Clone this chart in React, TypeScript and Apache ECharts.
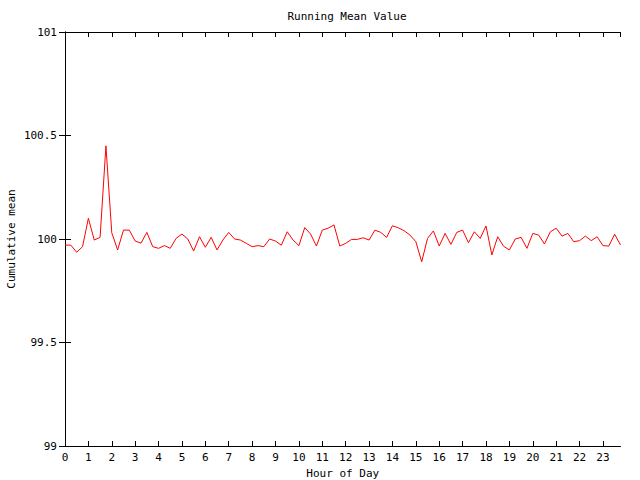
import React, { useEffect, useRef } from "react";
import * as echarts from "echarts";

const titleText = "Running Mean Value";
const xAxisName = "Hour of Day";
const yAxisName = "Cumulative mean";

// sample hours: every quarter hour, 0 .. 23.75
const hours: number[] = [
  0, 0.25, 0.5, 0.75, 1, 1.25, 1.5, 1.75, 2, 2.25, 2.5, 2.75,
  3, 3.25, 3.5, 3.75, 4, 4.25, 4.5, 4.75, 5, 5.25, 5.5, 5.75,
  6, 6.25, 6.5, 6.75, 7, 7.25, 7.5, 7.75, 8, 8.25, 8.5, 8.75,
  9, 9.25, 9.5, 9.75, 10, 10.25, 10.5, 10.75, 11, 11.25, 11.5, 11.75,
  12, 12.25, 12.5, 12.75, 13, 13.25, 13.5, 13.75, 14, 14.25, 14.5, 14.75,
  15, 15.25, 15.5, 15.75, 16, 16.25, 16.5, 16.75, 17, 17.25, 17.5, 17.75,
  18, 18.25, 18.5, 18.75, 19, 19.25, 19.5, 19.75, 20, 20.25, 20.5, 20.75,
  21, 21.25, 21.5, 21.75, 22, 22.25, 22.5, 22.75, 23, 23.25, 23.5, 23.75,
];

const runningMean: number[] = [
  99.971, 99.97, 99.936, 99.963, 100.1, 99.995, 100.008, 100.45, 100.03, 99.947, 100.043, 100.043,
  99.99, 99.98, 100.032, 99.963, 99.955, 99.968, 99.955, 100.003, 100.024, 100.0, 99.942, 100.011,
  99.96, 100.008, 99.947, 99.995, 100.032, 100.0, 99.995, 99.979, 99.963, 99.968, 99.963, 100.0,
  99.99, 99.97, 100.035, 99.995, 99.968, 100.055, 100.024, 99.966, 100.043, 100.052, 100.068, 99.966,
  99.979, 99.998, 99.998, 100.006, 99.995, 100.043, 100.032, 100.008, 100.064, 100.054, 100.04, 100.019,
  99.987, 99.89, 100.003, 100.039, 99.966, 100.027, 99.974, 100.032, 100.043, 99.982, 100.035, 100.003,
  100.063, 99.923, 100.011, 99.965, 99.947, 100.0, 100.008, 99.955, 100.027, 100.019, 99.976, 100.035,
  100.052, 100.014, 100.027, 99.987, 99.992, 100.014, 99.992, 100.011, 99.968, 99.966, 100.023, 99.971,
];

const yTicks: number[] = [99, 99.5, 100, 100.5, 101];

export default function App() {
  const ref = useRef<HTMLDivElement>(null);

  useEffect(() => {
    document.body.style.margin = "0";
    if (!ref.current) return;
    const chart = echarts.init(ref.current, undefined, { renderer: "svg" });
    const font = "DejaVu Sans Mono";
    const data = hours.map((h, i) => [h, runningMean[i]]);
    const axisLine = { show: true, lineStyle: { color: "#000", width: 1 } };
    chart.setOption({
      animation: false,
      backgroundColor: "#fff",
      textStyle: { fontFamily: font, color: "#000" },
      title: {
        text: titleText,
        left: 342,
        textAlign: "center",
        top: 6,
        textStyle: { fontFamily: font, fontSize: 11, fontWeight: "normal", color: "#000" },
      },
      grid: {
        left: 65,
        right: 19.5,
        top: 32,
        bottom: 34,
        containLabel: false,
        outerBoundsMode: "none",
      },
      xAxis: [
        {
          type: "value",
          min: 0,
          max: 23.75,
          interval: 1,
          name: xAxisName,
          nameLocation: "middle",
          nameGap: 22,
          nameTextStyle: { fontFamily: font, fontSize: 11, color: "#000" },
          axisLine,
          axisTick: { show: true, inside: true, length: 5, lineStyle: { color: "#000" } },
          axisLabel: {
            fontFamily: font,
            fontSize: 11,
            color: "#000",
            margin: 6,
            showMaxLabel: false,
            formatter: (v: number) => (Number.isInteger(v) ? String(v) : ""),
          },
          splitLine: { show: false },
        },
        {
          type: "value",
          position: "top",
          min: 0,
          max: 23.75,
          interval: 1,
          axisLine,
          axisTick: { show: true, inside: true, length: 5, lineStyle: { color: "#000" } },
          axisLabel: { show: false },
          splitLine: { show: false },
        },
      ],
      yAxis: [
        {
          type: "value",
          min: yTicks[0],
          max: yTicks[yTicks.length - 1],
          interval: 0.5,
          name: yAxisName,
          nameLocation: "middle",
          nameGap: 48,
          nameRotate: 90,
          nameMoveOverlap: false,
          nameTextStyle: { fontFamily: font, fontSize: 11, color: "#000" },
          axisLine,
          axisTick: { show: true, inside: true, length: 6, lineStyle: { color: "#000" } },
          axisLabel: { fontFamily: font, fontSize: 11, color: "#000", margin: 8 },
          splitLine: { show: false },
        },
        {
          type: "value",
          position: "right",
          min: yTicks[0],
          max: yTicks[yTicks.length - 1],
          interval: 0.5,
          axisLine,
          axisTick: { show: true, inside: true, length: 6, lineStyle: { color: "#000" } },
          axisLabel: { show: false },
          splitLine: { show: false },
        },
      ],
      series: [
        {
          type: "line",
          data,
          xAxisIndex: 0,
          yAxisIndex: 0,
          showSymbol: false,
          symbol: "none",
          lineStyle: { color: "#ff0000", width: 1 },
          itemStyle: { color: "#ff0000" },
        },
      ],
    });
    return () => chart.dispose();
  }, []);

  return <div ref={ref} style={{ width: 640, height: 480 }} />;
}
